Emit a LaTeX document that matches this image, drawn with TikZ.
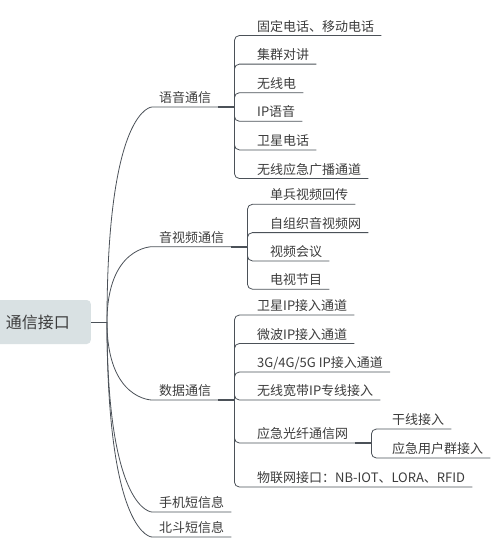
\documentclass[tikz,border=0pt]{standalone}
\usepackage{fontspec}
\setmainfont{Noto Sans CJK SC}
\usetikzlibrary{positioning}
\usetikzlibrary{calc}
\definecolor{linegray}{HTML}{4B5158}
\definecolor{rootfill}{HTML}{D9E1E3}
\definecolor{txtgray}{HTML}{3C3C3C}

\begin{document}
\begin{tikzpicture}[x=1pt, y=-1pt]
	\tikzset{
		rootbox/.style={rectangle, fill=rootfill, rounded corners=4pt, minimum height=44pt, inner xsep=21pt, anchor=east, text=txtgray, font=\fontsize{16}{16}\selectfont},
		topic/.style={rectangle, inner xsep=7pt, inner ysep=2.8pt, text height=10pt, text depth=1.5pt, anchor=south west, text=txtgray, font=\fontsize{13}{13}\selectfont},
		link/.style={draw=linegray, line width=0.8pt},
		stem/.style={draw=linegray, line width=1.8pt},
		elbow/.style={link, rounded corners=5pt}
	}
	\useasboundingbox (0,0) rectangle (500,550);

	% Root
	\node[rootbox] (root) at (91,322) {通信接口};
	\coordinate (hub) at (107,322);
	\draw[link] (root.east) -- (hub);

	% Main topics
	\node[topic] (voice) at (152,107) {语音通信};
	\node[topic] (video) at (152,246.7) {音视频通信};
	\node[topic] (data) at (152,400) {数据通信};
	\node[topic] (sms) at (152,512) {手机短信息};
	\node[topic] (bds) at (152,537) {北斗短信息};

	\foreach \t in {voice, video, data, sms, bds}
		\draw[link] (hub) .. controls (hub |- \t.south west) and (\t.south west) .. (\t.south west) -- (\t.south east);

	% Branch 1: voice
	\coordinate (voicebar) at ($(voice.south east)+(16,0)$);
	\draw[stem] (voice.south east) -- (voicebar);
	\node[topic] (voice1) at (250,35.5) {固定电话、移动电话};
	\node[topic] (voice2) at (250,64.1) {集群对讲};
	\node[topic] (voice3) at (250,92.7) {无线电};
	\node[topic] (voice4) at (250,121.3) {IP语音};
	\node[topic] (voice5) at (250,149.9) {卫星电话};
	\node[topic] (voice6) at (250,178.5) {无线应急广播通道};
	\foreach \n in {voice1, voice2, voice3, voice4, voice5, voice6}
		\draw[elbow] (voicebar) |- (\n.south west) -- (\n.south east);

	% Branch 2: audio and video
	\coordinate (videobar) at ($(video.south east)+(16,0)$);
	\draw[stem] (video.south east) -- (videobar);
	\node[topic] (video1) at (263,204.3) {单兵视频回传};
	\node[topic] (video2) at (263,232.6) {自组织音视频网};
	\node[topic] (video3) at (263,260.9) {视频会议};
	\node[topic] (video4) at (263,289.2) {电视节目};
	\foreach \n in {video1, video2, video3, video4}
		\draw[elbow] (videobar) |- (\n.south west) -- (\n.south east);

	% Branch 3: data
	\coordinate (databar) at ($(data.south east)+(16,0)$);
	\draw[stem] (data.south east) -- (databar);
	\node[topic] (data1) at (250,315) {卫星IP接入通道};
	\node[topic] (data2) at (250,343.5) {微波IP接入通道};
	\node[topic] (data3) at (250,372) {3G/4G/5G IP接入通道};
	\node[topic] (data4) at (250,400) {无线宽带IP专线接入};
	\node[topic] (data5) at (250,443) {应急光纤通信网};
	\node[topic] (data6) at (250,487) {物联网接口：NB-IOT、LORA、RFID};
	\foreach \n in {data1, data2, data3, data4, data5, data6}
		\draw[elbow] (databar) |- (\n.south west) -- (\n.south east);

	% Fibre network sub-branch
	\coordinate (fibrebar) at ($(data5.south east)+(16,0)$);
	\draw[stem] (data5.south east) -- (fibrebar);
	\node[topic] (fibre1) at (385,429) {干线接入};
	\node[topic] (fibre2) at (385,458) {应急用户群接入};
	\foreach \n in {fibre1, fibre2}
		\draw[elbow] (fibrebar) |- (\n.south west) -- (\n.south east);
\end{tikzpicture}
\end{document}
